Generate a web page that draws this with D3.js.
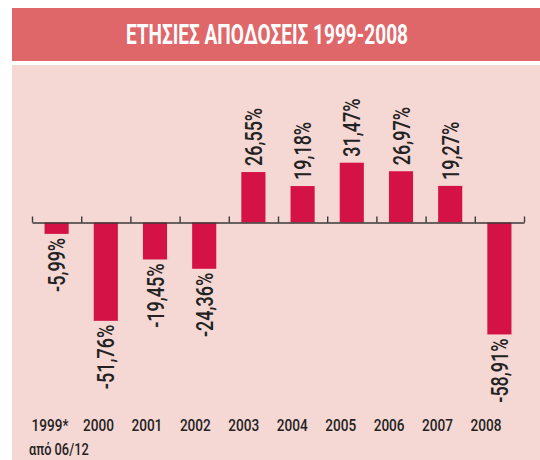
<!DOCTYPE html>
<html>
<head>
<meta charset="utf-8">
<script src="https://cdn.jsdelivr.net/npm/d3@7"></script>
<style>
  body { margin: 0; background: #fff; }
  text { font-family: Roboto, "Liberation Sans", sans-serif; }
</style>
</head>
<body>
<script>
(function(){

//chart data
var years = ["1999*", "2000", "2001", "2002", "2003", "2004", "2005", "2006", "2007", "2008"];
var returns = [-5.99, -51.76, -19.45, -24.36, 26.55, 19.18, 31.47, 26.97, 19.27, -58.91];
var valueLabels = ["-5,99%", "-51,76%", "-19,45%", "-24,36%", "26,55%", "19,18%", "31,47%", "26,97%", "19,27%", "-58,91%"];
var title = "ΕΤΗΣΙΕΣ ΑΠΟΔΟΣΕΙΣ 1999-2008";
var footnote = "από 06/12";

var width = 540,
    height = 460;

var svg = d3.select("body")
    .append("svg")
    .attr("width", width)
    .attr("height", height);

//title band
svg.append("rect")
    .attr("x", 12).attr("y", 8)
    .attr("width", width - 12).attr("height", 53)
    .style("fill", "#df6769");

svg.append("text")
    .attr("x", 267).attr("y", 43.5)
    .attr("text-anchor", "middle")
    .attr("textLength", 282)
    .attr("lengthAdjust", "spacingAndGlyphs")
    .style("font-size", "27px")
    .style("font-weight", "bold")
    .style("fill", "#fff")
    .text(title);

//pink panel
svg.append("rect")
    .attr("x", 12).attr("y", 65)
    .attr("width", width - 12).attr("height", height - 65)
    .style("fill", "#f5d7d3");

//scales
var x = d3.scaleBand()
    .domain(years)
    .range([32, 524])
    .paddingInner(0.51)
    .paddingOuter(0.255);

var xLabel = d3.scalePoint()
    .domain(years)
    .range([50, 486]);

var y = d3.scaleLinear()
    .domain([-60, 35])
    .range([336.5, 156]);

//bars
svg.selectAll(".bar")
    .data(returns)
    .enter()
    .append("rect")
    .attr("class", "bar")
    .attr("x", function(d, i){ return x(years[i]); })
    .attr("width", x.bandwidth())
    .attr("y", function(d){ return Math.min(y(d), y(0)); })
    .attr("height", function(d){ return Math.abs(y(d) - y(0)); })
    .style("fill", "#d41245");

//axis line with ticks on the band edges
var axis = d3.axisTop(d3.scaleLinear().domain([0, 10]).range([32, 524]))
    .ticks(10)
    .tickSize(6)
    .tickSizeOuter(0)
    .tickFormat("");

svg.append("g")
    .attr("transform", "translate(0," + y(0) + ")")
    .call(axis)
    .call(function(g){
        g.selectAll("line, path").style("stroke", "#3a3a3a").style("stroke-width", 1.4);
    });

//rotated value labels
svg.selectAll(".val")
    .data(returns)
    .enter()
    .append("text")
    .attr("class", "val")
    .attr("transform", function(d, i){
        var cx = x(years[i]) + x.bandwidth() / 2;
        var yy = d >= 0 ? y(d) - 6 : y(d) + 4;
        return "translate(" + cx + "," + yy + ") rotate(-90) scale(0.75,1)";
    })
    .attr("text-anchor", function(d){ return d >= 0 ? "start" : "end"; })
    .attr("dy", "0.36em")
    .style("font-size", "24px")
    .style("font-weight", 500)
    .style("fill", "#222")
    .text(function(d, i){ return valueLabels[i]; });

//category labels
svg.selectAll(".cat")
    .data(years)
    .enter()
    .append("text")
    .attr("class", "cat")
    .attr("transform", function(d){ return "translate(" + xLabel(d) + ",431) scale(0.85,1)"; })
    .attr("text-anchor", "middle")
    .style("font-size", "16px")
    .style("font-weight", 500)
    .style("fill", "#222")
    .text(function(d){ return d; });

svg.append("text")
    .attr("transform", "translate(29,455) scale(0.8,1)")
    .style("font-size", "16px")
    .style("font-weight", 500)
    .style("fill", "#222")
    .text(footnote);

})();
</script>
</body>
</html>
